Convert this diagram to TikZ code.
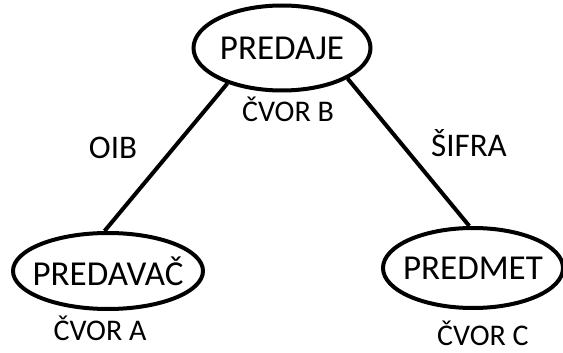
\documentclass[tikz,border=0pt]{standalone}
\usepackage{fontspec}
\setmainfont{Carlito}
\usetikzlibrary{shapes.geometric}

\begin{document}
\begin{tikzpicture}[x=1pt, y=-1pt,
		entity/.style={ellipse, draw, line width=4pt, inner xsep=-10pt,
			font=\fontsize{35}{42}\selectfont},
		tag/.style={font=\fontsize{30}{36}\selectfont},
		rel/.style={font=\fontsize{33}{40}\selectfont},
		link/.style={line width=4pt}]
			\useasboundingbox (0,0) rectangle (563,353);
			\node[entity, minimum width=177pt, minimum height=85pt]
				(b) at (282,48) {PREDAJE};
			\node[entity, minimum width=190pt, minimum height=76pt]
				(a) at (108,271) {PREDAVAČ};
			\node[entity, minimum width=180pt, minimum height=80pt]
				(c) at (473,268) {PREDMET};
			\draw[link] (b.213) -- (a.95);
			\draw[link] (b.335) -- (c.95);
			\node[tag] (tb) at (288,109) {ČVOR B};
			\node[tag] (ta) at (100,328) {ČVOR A};
			\node[tag] (tc) at (483,333) {ČVOR C};
			\node[rel] (oib) at (113,148) {OIB};
			\node[rel] (sifra) at (469,143) {ŠIFRA};
		\end{tikzpicture}
\end{document}
